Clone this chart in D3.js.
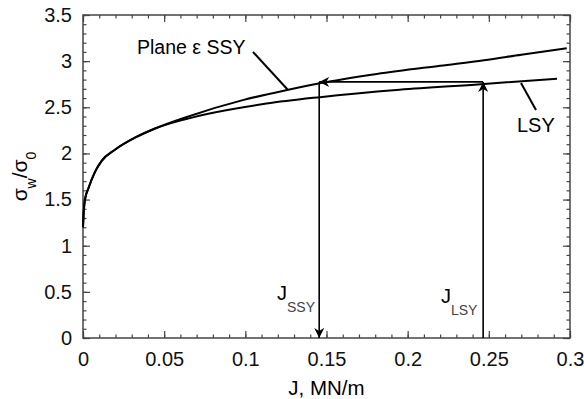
<!DOCTYPE html>
<html>
<head>
<meta charset="utf-8">
<script src="https://cdn.jsdelivr.net/npm/d3@7"></script>
<style>
  body { margin: 0; background: #fff; }
  text { font-family: "Liberation Sans", Arial, sans-serif; }
</style>
</head>
<body>
<div id="chart"></div>
<script>
// curve data (J in MN/m, sigma_w/sigma_0)
var ssyJ   = [0, 0.0005, 0.0012, 0.0033, 0.0074, 0.0115, 0.0197, 0.032, 0.0444, 0.063, 0.099, 0.1265, 0.146, 0.181, 0.22, 0.247, 0.27, 0.298];
var ssySig = [1.2, 1.38, 1.5, 1.62, 1.8, 1.92, 2.04, 2.17, 2.27, 2.39, 2.58, 2.69, 2.76, 2.86, 2.95, 3.01, 3.07, 3.14];
var lsyJ   = [0, 0.0005, 0.0012, 0.0033, 0.0074, 0.0115, 0.0197, 0.032, 0.0444, 0.063, 0.113, 0.146, 0.195, 0.245, 0.292];
var lsySig = [1.2, 1.38, 1.5, 1.62, 1.8, 1.92, 2.04, 2.17, 2.27, 2.37, 2.54, 2.61, 2.69, 2.75, 2.81];

var jSSY = 0.1455, jLSY = 0.2465, sigLevel = 2.775;

var xTicks = [0, 0.05, 0.1, 0.15, 0.2, 0.25, 0.3];
var yTicks = [0, 0.5, 1, 1.5, 2, 2.5, 3, 3.5];

var margin = {top: 15, right: 14, bottom: 61, left: 83},
  width = 584 - margin.left - margin.right,
  height = 399 - margin.top - margin.bottom;

var svg = d3.select("#chart")
.append("svg")
  .attr("width", 584)
  .attr("height", 399)
.append("g")
  .attr("transform", "translate(" + margin.left + "," + margin.top + ")");

var x = d3.scaleLinear().domain([0, 0.3]).range([0, width]);
var y = d3.scaleLinear().domain([0, 3.5]).range([height, 0]);

var frameColor = "#444";

// minor ticks (all four sides, inward)
var xMinor = d3.range(0, 0.3001, 0.01);
var yMinor = d3.range(0, 3.5001, 0.1);
function minorAxis(axis, vals) {
  return axis.tickValues(vals).tickSize(-3.5).tickFormat("");
}
svg.append("g").attr("transform", "translate(0," + height + ")").call(minorAxis(d3.axisBottom(x), xMinor));
svg.append("g").call(minorAxis(d3.axisTop(x), xMinor));
svg.append("g").call(minorAxis(d3.axisLeft(y), yMinor));
svg.append("g").attr("transform", "translate(" + width + ",0)").call(minorAxis(d3.axisRight(y), yMinor));

// major ticks
svg.append("g").attr("class", "lab").attr("transform", "translate(0," + height + ")")
  .call(d3.axisBottom(x).tickValues(xTicks).tickSize(-7).tickPadding(14).tickFormat(d3.format("")));
svg.append("g").call(d3.axisTop(x).tickValues(xTicks).tickSize(-7).tickFormat(""));
svg.append("g").attr("class", "lab")
  .call(d3.axisLeft(y).tickValues(yTicks).tickSize(-7).tickPadding(11).tickFormat(d3.format("")));
svg.append("g").attr("transform", "translate(" + width + ",0)")
  .call(d3.axisRight(y).tickValues(yTicks).tickSize(-7).tickFormat(""));

svg.selectAll(".domain").remove();
svg.selectAll(".tick line").attr("stroke", frameColor).attr("stroke-width", 1.2);
svg.selectAll(".lab text").attr("font-size", "20px").attr("fill", "#111");

svg.append("rect")
  .attr("width", width).attr("height", height)
  .attr("fill", "none").attr("stroke", frameColor).attr("stroke-width", 1.5);

// curves
var line = d3.line()
  .x(function(d) { return x(d[0]); })
  .y(function(d) { return y(d[1]); })
  .curve(d3.curveMonotoneX);

svg.append("path").datum(d3.zip(ssyJ, ssySig))
  .attr("d", line).attr("fill", "none").attr("stroke", "#000").attr("stroke-width", 2);
svg.append("path").datum(d3.zip(lsyJ, lsySig))
  .attr("d", line).attr("fill", "none").attr("stroke", "#000").attr("stroke-width", 2);

// arrow head marker
svg.append("defs").append("marker")
  .attr("id", "head")
  .attr("viewBox", "0 0 10 10")
  .attr("refX", 10).attr("refY", 5)
  .attr("markerUnits", "userSpaceOnUse")
  .attr("markerWidth", 11).attr("markerHeight", 10)
  .attr("orient", "auto")
.append("path")
  .attr("d", "M0,0 L10,5 L0,10 L3,5 Z")
  .attr("fill", "#000");

function arrow(x1, y1, x2, y2) {
  svg.append("line")
    .attr("x1", x(x1)).attr("y1", y(y1))
    .attr("x2", x(x2)).attr("y2", y(y2))
    .attr("stroke", "#000").attr("stroke-width", 1.6)
    .attr("marker-end", "url(#head)");
}
arrow(jLSY, 0, jLSY, sigLevel);
arrow(jLSY, sigLevel, jSSY, sigLevel);
arrow(jSSY, sigLevel, jSSY, 0);

// labels
function lead(x1, y1, x2, y2) {
  svg.append("line")
    .attr("x1", x1).attr("y1", y1).attr("x2", x2).attr("y2", y2)
    .attr("stroke", "#000").attr("stroke-width", 2);
}
svg.append("text").attr("x", 137 - margin.left).attr("y", 54 - margin.top)
  .attr("font-size", "19.5px").text("Plane \u03b5 SSY");
lead(253 - margin.left, 52 - margin.top, 288 - margin.left, 90 - margin.top);

svg.append("text").attr("x", 517 - margin.left).attr("y", 132 - margin.top)
  .attr("font-size", "20px").text("LSY");
lead(521 - margin.left, 83 - margin.top, 536 - margin.left, 110 - margin.top);

function subLabel(px, py, sub) {
  var t = svg.append("text").attr("x", px - margin.left).attr("y", py - margin.top).attr("font-size", "20px");
  t.append("tspan").text("J");
  t.append("tspan").attr("dy", 12).attr("font-size", "14px").attr("fill", "#444").text(sub);
}
subLabel(277, 300, "SSY");
subLabel(441, 303, "LSY");

// axis titles
svg.append("text")
  .attr("x", width / 2).attr("y", 395 - margin.top)
  .attr("text-anchor", "middle").attr("font-size", "20.5px")
  .text("J, MN/m");

var yt = svg.append("text")
  .attr("transform", "translate(" + (27 - margin.left) + "," + (height / 2) + ") rotate(-90)")
  .attr("text-anchor", "middle").attr("font-size", "21px");
yt.append("tspan").text("\u03c3");
yt.append("tspan").attr("dy", 9).attr("font-size", "14px").text("w");
yt.append("tspan").attr("dy", -9).text("/\u03c3");
yt.append("tspan").attr("dy", 9).attr("font-size", "14px").text("0");
</script>
</body>
</html>
